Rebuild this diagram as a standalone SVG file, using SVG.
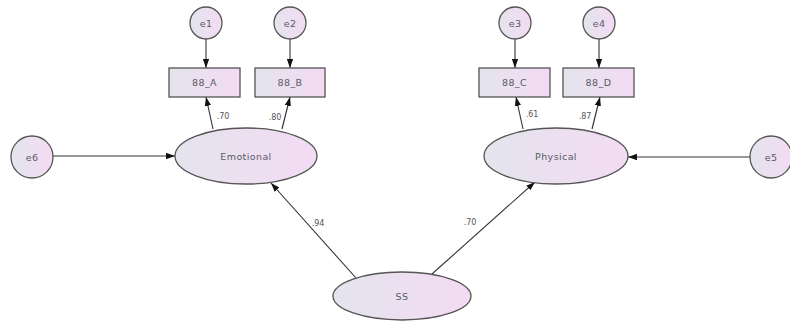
<svg xmlns="http://www.w3.org/2000/svg" width="790" height="322" viewBox="0 0 790 322">
  <defs>
    <linearGradient id="fill" x1="0" y1="0" x2="1" y2="0">
      <stop offset="0" stop-color="#e4e4ee"/>
      <stop offset="1" stop-color="#f3dbf3"/>
    </linearGradient>
    <marker id="arrow" viewBox="0 0 10 10" refX="10" refY="5" markerWidth="9" markerHeight="9" markerUnits="userSpaceOnUse" orient="auto">
      <path d="M0,1.5 L10,5 L0,8.5 Z" fill="#111"/>
    </marker>
    <style>
      .node { fill: url(#fill); stroke: #555; stroke-width: 1.3; }
      .label { font-family: "DejaVu Sans", "Liberation Sans", sans-serif; font-size: 9.5px; letter-spacing: 0.4px; fill: #5a5a66; text-anchor: middle; dominant-baseline: central; }
      .coef { font-family: "DejaVu Sans", "Liberation Sans", sans-serif; font-size: 8px; fill: #555; text-anchor: middle; dominant-baseline: central; }
      .edge { stroke: #333; stroke-width: 1.1; fill: none; marker-end: url(#arrow); }
    </style>
  </defs>
  <rect width="790" height="322" fill="#ffffff"/>

  <!-- connectors -->
  <g id="connectors">
    <line class="edge" x1="206" y1="39" x2="206" y2="68"/>
    <line class="edge" x1="290" y1="39" x2="290" y2="68"/>
    <line class="edge" x1="515" y1="39" x2="515" y2="68"/>
    <line class="edge" x1="599" y1="39" x2="599" y2="68"/>
    <line class="edge" x1="213" y1="129" x2="206" y2="97"/>
    <line class="edge" x1="282" y1="129" x2="290" y2="97"/>
    <line class="edge" x1="523" y1="129" x2="516" y2="97"/>
    <line class="edge" x1="592" y1="129" x2="600" y2="97"/>
    <line class="edge" x1="53" y1="156" x2="175" y2="156"/>
    <line class="edge" x1="750" y1="157" x2="628" y2="157"/>
    <line class="edge" x1="356" y1="278" x2="271" y2="183"/>
    <line class="edge" x1="432" y1="274" x2="535" y2="182"/>
    <text class="coef" x="223" y="116">.70</text>
    <text class="coef" x="275" y="117">.80</text>
    <text class="coef" x="532" y="114">.61</text>
    <text class="coef" x="585" y="116">.87</text>
    <text class="coef" x="318" y="223">.94</text>
    <text class="coef" x="470" y="222">.70</text>
  </g>

  <!-- error terms -->
  <g id="e1"><circle class="node" cx="206" cy="23" r="16"/><text class="label" x="206" y="23">e1</text></g>
  <g id="e2"><circle class="node" cx="290" cy="23" r="16"/><text class="label" x="290" y="23">e2</text></g>
  <g id="e3"><circle class="node" cx="515" cy="23" r="16"/><text class="label" x="515" y="23">e3</text></g>
  <g id="e4"><circle class="node" cx="599" cy="23" r="16"/><text class="label" x="599" y="23">e4</text></g>
  <g id="e6"><circle class="node" cx="32" cy="157" r="21"/><text class="label" x="32" y="157">e6</text></g>
  <g id="e5"><circle class="node" cx="771" cy="157" r="21"/><text class="label" x="771" y="157">e5</text></g>

  <!-- observed indicators -->
  <g id="ss_a"><rect class="node" x="169" y="68" width="71" height="29"/><text class="label" x="204.5" y="82.5">88_A</text></g>
  <g id="ss_b"><rect class="node" x="255" y="68" width="70" height="29"/><text class="label" x="290" y="82.5">88_B</text></g>
  <g id="ss_c"><rect class="node" x="479" y="68" width="71" height="29"/><text class="label" x="514.5" y="82.5">88_C</text></g>
  <g id="ss_d"><rect class="node" x="563" y="68" width="71" height="29"/><text class="label" x="598.5" y="82.5">88_D</text></g>

  <!-- latent factors -->
  <g id="emotional"><ellipse class="node" cx="246" cy="156" rx="71" ry="28"/><text class="label" x="246" y="156">Emotional</text></g>
  <g id="physical"><ellipse class="node" cx="556" cy="156" rx="72" ry="28"/><text class="label" x="556" y="156">Physical</text></g>
  <g id="ss"><ellipse class="node" cx="402" cy="296" rx="69" ry="24"/><text class="label" x="402" y="296">SS</text></g>
</svg>
